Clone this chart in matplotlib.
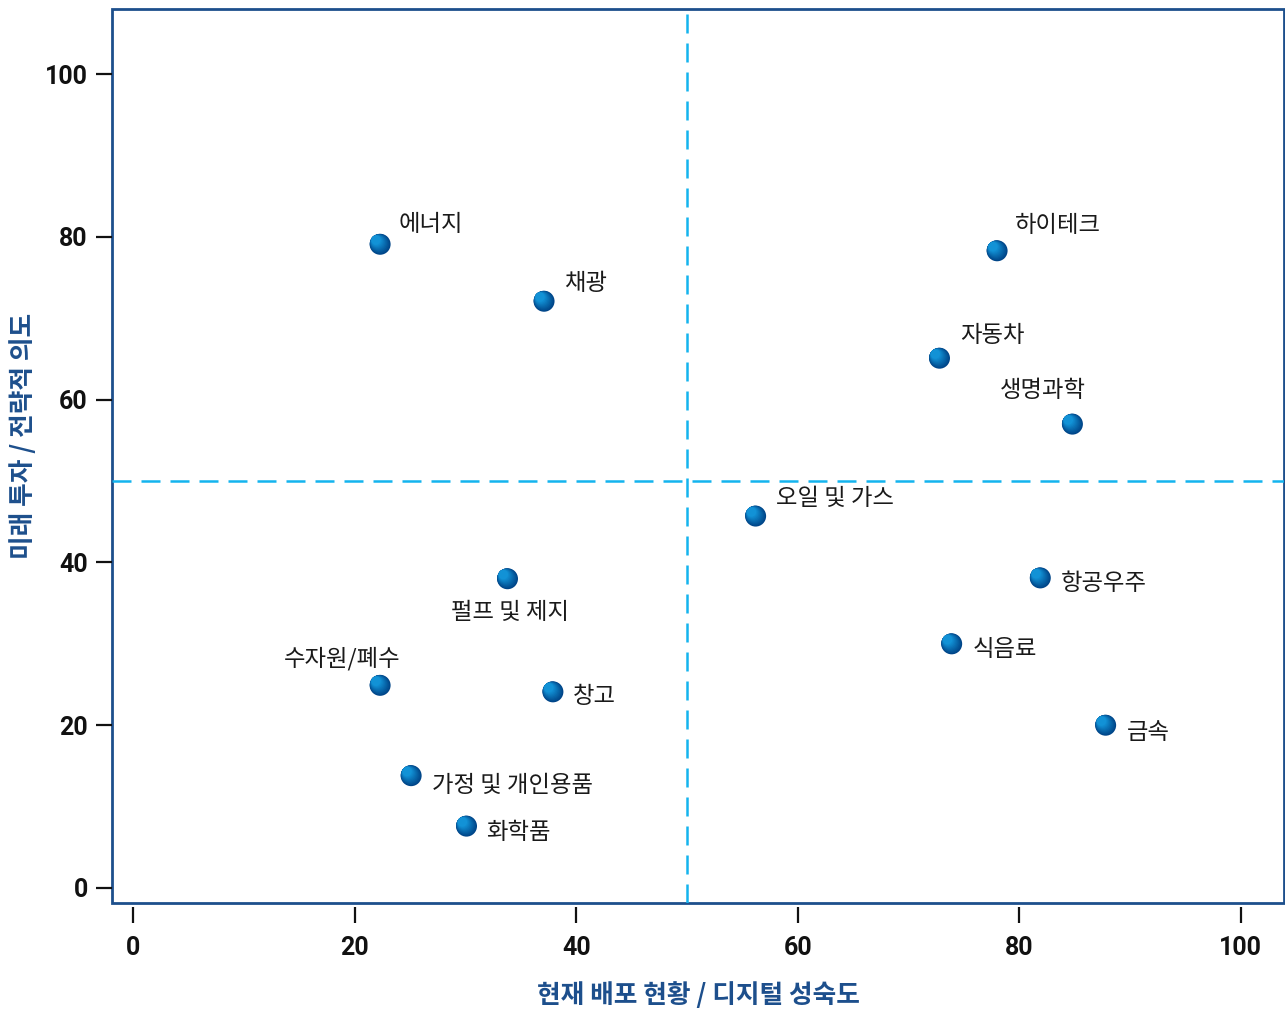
import matplotlib

matplotlib.use("Agg")
import matplotlib.pyplot as plt
import matplotlib.transforms as mtransforms
import numpy as np

# sectors: current deployment (x) vs future investment (y)
sectors = [
    "에너지", "채광", "하이테크", "자동차", "생명과학", "오일 및 가스", "펄프 및 제지",
    "항공우주", "식음료", "수자원/폐수", "창고", "금속", "가정 및 개인용품", "화학품",
]
deploy = [22.3, 37.1, 78.0, 72.8, 84.8, 56.2, 33.8, 81.9, 73.9, 22.3, 37.9, 87.8, 25.1, 30.1]
invest = [79.1, 72.1, 78.3, 65.1, 57.0, 45.7, 38.0, 38.1, 30.0, 24.9, 24.1, 20.0, 13.8, 7.6]
x_ticks = [0, 20, 40, 60, 80, 100]
y_ticks = [0, 20, 40, 60, 80, 100]
x_label = "현재 배포 현황 / 디지털 성숙도"
y_label = "미래 투자 / 전략적 의도"

# label placement (points offset, horizontal alignment)
label_pos = {
    "에너지": ((13, 14), "left"),
    "채광": ((14.4, 13), "left"),
    "하이테크": ((13, 18.5), "left"),
    "자동차": ((15, 16), "left"),
    "생명과학": ((-21.6, 24.5), "center"),
    "오일 및 가스": ((15, 13), "left"),
    "펄프 및 제지": ((1.5, -24.5), "center"),
    "항공우주": ((15, -4.3), "left"),
    "식음료": ((15, -4.3), "left"),
    "수자원/폐수": ((-27.4, 19.4), "center"),
    "창고": ((14.4, -3.6), "left"),
    "금속": ((15, -5), "left"),
    "가정 및 개인용품": ((15, -7.2), "left"),
    "화학품": ((14.4, -4.3), "left"),
}

BLUE = "#1d4f8c"
CYAN = "#14b4ee"
KFONT = ["Noto Sans CJK KR", "DejaVu Sans"]

fig = plt.figure(figsize=(12.85, 10.10), dpi=100)
ax = fig.add_axes([0.0872, 0.106, 0.912, 0.885])

ax.set_xlim(-1.9, 103.9)
ax.set_ylim(-1.84, 108.0)

ax.axvline(50, color=CYAN, linestyle=(0, (7.6, 4)), linewidth=1.8, zorder=1)
ax.axhline(50, color=CYAN, linestyle=(0, (7.6, 4)), linewidth=1.8, zorder=1)

# shaded spheres: circles shrinking toward the upper-left edge
layers = 10
D = 21.0  # px
dark = np.array([0x00, 0x45, 0x88]) / 255
light = np.array([0x12, 0x92, 0xd6]) / 255
for i in range(layers):
    f = i / (layers - 1)
    diam = D * (1 - 0.55 * f)
    shift = (D - diam) / 2 / np.sqrt(2) / 100  # inches
    tr = ax.transData + mtransforms.ScaledTranslation(-shift, shift, fig.dpi_scale_trans)
    col = dark * (1 - f) + light * f
    ax.scatter(deploy, invest, s=(diam * 0.72) ** 2, color=col, edgecolors="none",
               transform=tr, zorder=3 + i)

for name, x, y in zip(sectors, deploy, invest):
    (dx, dy), ha = label_pos[name]
    ax.annotate(name, (x, y), xytext=(dx, dy), textcoords="offset points",
                ha=ha, va="center", fontsize=16.8, family=KFONT, color="#1a1a1a",
                zorder=20)

# frame drawn by the patch, x ticks offset slightly below it
ax.patch.set_edgecolor(BLUE)
ax.patch.set_linewidth(2.0)
for side in ["top", "right", "left", "bottom"]:
    ax.spines[side].set_visible(False)
ax.spines["bottom"].set_position(("outward", 3))

ax.set_xticks(x_ticks)
ax.set_yticks(y_ticks)
ax.tick_params(axis="both", direction="out", length=11.5, width=1.6, color="#111111",
               labelsize=18, labelcolor="#111111")
ax.tick_params(axis="x", pad=9)
ax.tick_params(axis="y", pad=6)
for lbl in ax.get_xticklabels() + ax.get_yticklabels():
    lbl.set_family(["Roboto", "DejaVu Sans"])
    lbl.set_fontweight("bold")

ax.set_xlabel(x_label, fontsize=18.5, family=KFONT, fontweight="bold", color=BLUE)
ax.set_ylabel(y_label, fontsize=18.5, family=KFONT, fontweight="bold", color=BLUE)
ax.xaxis.set_label_coords(0.5, -0.089)
ax.yaxis.set_label_coords(-0.064, 0.523)

fig.savefig("out.png", dpi=100)
plt.close(fig)
